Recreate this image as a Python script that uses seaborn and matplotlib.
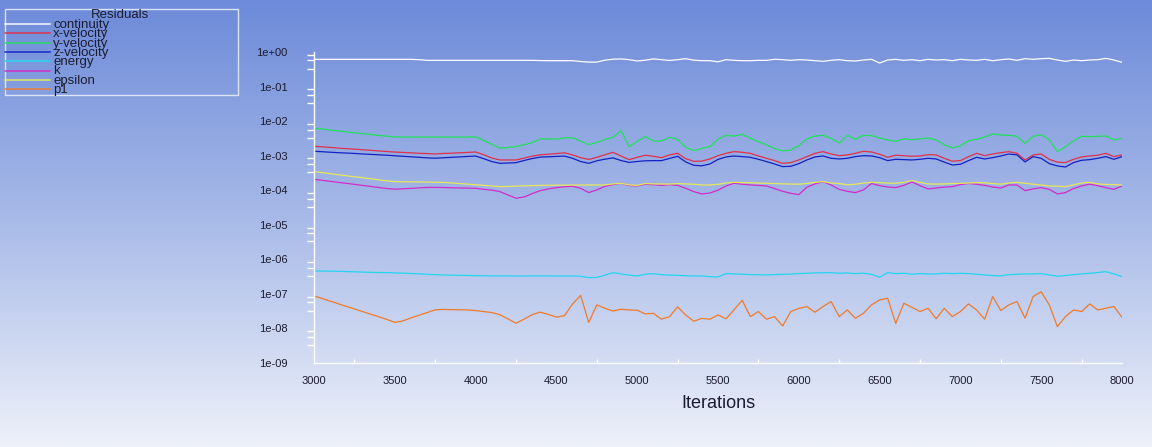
import numpy as np
import pandas as pd
import matplotlib
matplotlib.use("Agg")
import matplotlib.pyplot as plt
import seaborn as sns
from matplotlib.lines import Line2D
from matplotlib.patches import Rectangle
from matplotlib.colors import LinearSegmentedColormap
from matplotlib.ticker import LogLocator, MultipleLocator, NullFormatter

sns.set_theme(style="white")
plt.rcParams['font.family'] = ['Liberation Sans', 'DejaVu Sans']

# ---------------- data ----------------
iterations = list(range(3000, 8001, 50))

continuity = ([0.614] * 13 + [0.60] + [0.574] * 14 + [0.565] + [0.56] * 4 +
              [0.53, 0.51, 0.51, 0.58, 0.62, 0.63, 0.60, 0.55, 0.58, 0.63, 0.60, 0.57, 0.60, 0.64, 0.58, 0.56, 0.56, 0.52] +
              [0.60, 0.574, 0.56, 0.56, 0.574, 0.574, 0.614, 0.60, 0.574, 0.60,
               0.587, 0.56, 0.537, 0.574, 0.60, 0.56, 0.549, 0.587, 0.614, 0.48,
               0.587, 0.614, 0.574, 0.60, 0.56, 0.614, 0.587, 0.60, 0.56, 0.614,
               0.587, 0.574, 0.614, 0.56, 0.60, 0.627, 0.574, 0.641, 0.614, 0.641,
               0.655, 0.587, 0.537, 0.587, 0.56, 0.587, 0.60, 0.655, 0.587, 0.502])

x_velocity = [1.87e-3, 1.80e-3, 1.73e-3, 1.66e-3, 1.60e-3, 1.54e-3, 1.48e-3, 1.43e-3, 1.37e-3, 1.32e-3,
              1.27e-3, 1.24e-3, 1.21e-3, 1.17e-3, 1.15e-3, 1.12e-3, 1.16e-3, 1.18e-3, 1.21e-3, 1.24e-3,
              1.28e-3, 1.07e-3, 8.58e-4, 7.51e-4, 7.51e-4, 7.51e-4, 8.49e-4, 9.70e-4, 1.06e-3, 1.10e-3,
              1.15e-3, 1.21e-3, 1.05e-3, 8.77e-4, 7.76e-4, 8.97e-4, 1.06e-3, 1.25e-3, 9.80e-4, 7.68e-4,
              8.97e-4, 1.03e-3, 9.59e-4, 8.77e-4, 1.05e-3, 1.17e-3, 8.20e-4, 6.87e-4, 6.95e-4, 8.03e-4,
              1.0e-3,
              1.17e-3, 1.31e-3, 1.25e-3, 1.17e-3, 9.80e-4, 8.39e-4, 7.2e-4, 6.01e-4, 6.31e-4, 7.51e-4,
              9.38e-4, 1.17e-3, 1.31e-3, 1.12e-3, 1.0e-3, 1.05e-3, 1.17e-3, 1.34e-3, 1.28e-3, 1.1e-3,
              8.97e-4, 1.03e-3, 1.0e-3, 9.6e-4, 9.8e-4, 1.07e-3, 1.05e-3, 8.39e-4, 6.9e-4, 7.2e-4,
              9.38e-4, 1.17e-3, 1.0e-3, 1.12e-3, 1.22e-3, 1.31e-3, 1.17e-3, 7.51e-4, 1.05e-3, 1.12e-3,
              7.85e-4, 6.5e-4, 6.31e-4, 7.85e-4, 9.2e-4, 9.8e-4, 1.03e-3, 1.17e-3, 9.38e-4, 1.05e-3]

y_velocity = [6.19e-3, 5.85e-3, 5.52e-3, 5.19e-3, 4.9e-3, 4.61e-3, 4.36e-3, 4.10e-3, 3.87e-3, 3.65e-3,
              3.48e-3, 3.48e-3, 3.47e-3, 3.47e-3, 3.46e-3, 3.46e-3, 3.45e-3, 3.45e-3, 3.45e-3, 3.46e-3,
              3.48e-3, 2.77e-3, 2.14e-3, 1.65e-3, 1.73e-3, 1.82e-3, 2.07e-3, 2.38e-3, 3.04e-3, 3.04e-3,
              3.04e-3, 3.25e-3, 3.32e-3, 2.63e-3, 2.08e-3, 2.41e-3, 2.93e-3, 3.40e-3, 5.30e-3, 1.82e-3,
              2.61e-3, 3.55e-3, 2.66e-3, 2.66e-3, 3.40e-3, 2.97e-3, 1.75e-3, 1.40e-3, 1.63e-3, 1.82e-3,
              3.0e-3,
              3.89e-3, 3.71e-3, 4.15e-3, 3.18e-3, 2.55e-3, 2.04e-3, 1.60e-3, 1.37e-3, 1.46e-3, 1.95e-3,
              3.04e-3, 3.71e-3, 3.89e-3, 3.18e-3, 2.28e-3, 3.89e-3, 2.97e-3, 3.89e-3, 3.80e-3, 3.25e-3,
              2.85e-3, 2.61e-3, 3.11e-3, 2.91e-3, 3.04e-3, 3.25e-3, 2.85e-3, 2.08e-3, 1.67e-3, 1.91e-3,
              2.72e-3, 2.97e-3, 3.48e-3, 4.25e-3, 3.97e-3, 3.89e-3, 3.63e-3, 2.28e-3, 3.63e-3, 4.06e-3,
              2.85e-3, 1.31e-3, 1.82e-3, 2.72e-3, 3.63e-3, 3.55e-3, 3.63e-3, 3.71e-3, 2.85e-3, 3.18e-3]

z_velocity = [1.34e-3, 1.30e-3, 1.26e-3, 1.22e-3, 1.19e-3, 1.16e-3, 1.12e-3, 1.09e-3, 1.06e-3, 1.03e-3,
              9.95e-4, 9.59e-4, 9.27e-4, 8.97e-4, 8.63e-4, 8.45e-4, 8.69e-4, 8.95e-4, 9.2e-4, 9.48e-4,
              9.75e-4, 8.2e-4, 6.75e-4, 6.01e-4, 6.12e-4, 6.28e-4, 7.24e-4, 8.26e-4, 9.08e-4, 9.29e-4,
              9.51e-4, 9.73e-4, 8.39e-4, 6.76e-4, 6.01e-4, 7.1e-4, 7.92e-4, 8.63e-4, 7.24e-4, 6.37e-4,
              6.78e-4, 7.1e-4, 7.18e-4, 7.18e-4, 8.32e-4, 9.59e-4, 6.58e-4, 5.26e-4, 5.09e-4, 5.75e-4,
              7.8e-4,
              9.18e-4, 9.8e-4, 9.38e-4, 8.97e-4, 7.85e-4, 6.73e-4, 5.75e-4, 4.82e-4, 4.92e-4, 5.88e-4,
              7.51e-4, 9.18e-4, 9.8e-4, 8.39e-4, 8.03e-4, 8.39e-4, 9.38e-4, 1.0e-3, 9.8e-4, 8.77e-4,
              7.18e-4, 7.85e-4, 7.68e-4, 7.51e-4, 7.85e-4, 8.39e-4, 8.03e-4, 6.5e-4, 5.38e-4, 5.62e-4,
              7.18e-4, 8.97e-4, 8.03e-4, 8.77e-4, 9.8e-4, 1.12e-3, 1.05e-3, 6.6e-4, 9.38e-4, 8.39e-4,
              5.88e-4, 5.04e-4, 4.7e-4, 6.31e-4, 7.35e-4, 7.68e-4, 8.39e-4, 9.38e-4, 7.85e-4, 9.38e-4]

energy = [4.61e-7, 4.6e-7, 4.55e-7, 4.5e-7, 4.42e-7, 4.35e-7, 4.28e-7, 4.2e-7, 4.15e-7, 4.13e-7,
          4.05e-7, 3.97e-7, 3.9e-7, 3.8e-7, 3.7e-7, 3.6e-7, 3.52e-7, 3.49e-7, 3.46e-7, 3.42e-7,
          3.38e-7, 3.35e-7, 3.31e-7, 3.31e-7, 3.31e-7, 3.3e-7, 3.3e-7, 3.31e-7, 3.32e-7, 3.31e-7,
          3.3e-7, 3.3e-7, 3.3e-7, 3.25e-7, 2.95e-7, 3.0e-7, 3.5e-7, 4.1e-7, 3.8e-7, 3.5e-7,
          3.31e-7, 3.7e-7, 3.85e-7, 3.6e-7, 3.5e-7, 3.45e-7, 3.35e-7, 3.3e-7, 3.3e-7, 3.15e-7,
          3.1e-7,
          3.87e-7, 3.78e-7, 3.7e-7, 3.62e-7, 3.58e-7, 3.54e-7, 3.62e-7, 3.7e-7, 3.74e-7, 3.87e-7,
          3.95e-7, 4.04e-7, 4.08e-7, 4.13e-7, 3.95e-7, 4.04e-7, 3.87e-7, 3.95e-7, 3.7e-7, 3.03e-7,
          4.13e-7, 3.87e-7, 3.95e-7, 3.7e-7, 3.87e-7, 3.78e-7, 3.78e-7, 3.95e-7, 3.87e-7, 3.95e-7,
          3.87e-7, 3.7e-7, 3.54e-7, 3.39e-7, 3.31e-7, 3.62e-7, 3.7e-7, 3.78e-7, 3.78e-7, 3.87e-7,
          3.54e-7, 3.24e-7, 3.39e-7, 3.62e-7, 3.78e-7, 3.95e-7, 4.13e-7, 4.41e-7, 3.78e-7, 3.16e-7]

k_res = [2.07e-4, 1.94e-4, 1.81e-4, 1.69e-4, 1.58e-4, 1.48e-4, 1.38e-4, 1.29e-4, 1.2e-4, 1.12e-4,
         1.07e-4, 1.1e-4, 1.13e-4, 1.17e-4, 1.2e-4, 1.21e-4, 1.2e-4, 1.18e-4, 1.16e-4, 1.15e-4,
         1.14e-4, 1.06e-4, 1.01e-4, 9.12e-5, 7.3e-5, 5.85e-5, 6.38e-5, 7.98e-5, 9.73e-5, 1.09e-4,
         1.19e-4, 1.26e-4, 1.3e-4, 1.14e-4, 8.53e-5, 1.02e-4, 1.3e-4, 1.45e-4, 1.59e-4, 1.36e-4,
         1.33e-4, 1.49e-4, 1.45e-4, 1.38e-4, 1.45e-4, 1.38e-4, 1.14e-4, 9.12e-5, 7.8e-5, 8.3e-5,
         1.0e-4,
         1.33e-4, 1.59e-4, 1.49e-4, 1.42e-4, 1.38e-4, 1.33e-4, 1.12e-4, 9.3e-5, 8.15e-5, 7.46e-5,
         1.22e-4, 1.52e-4, 1.77e-4, 1.42e-4, 1.06e-4, 9.3e-5, 8.53e-5, 1.02e-4, 1.56e-4, 1.36e-4,
         1.24e-4, 1.19e-4, 1.38e-4, 1.73e-4, 1.36e-4, 1.09e-4, 1.16e-4, 1.23e-4, 1.27e-4, 1.45e-4,
         1.57e-4, 1.49e-4, 1.38e-4, 1.24e-4, 1.16e-4, 1.42e-4, 1.42e-4, 9.73e-5, 1.09e-4, 1.19e-4,
         1.06e-4, 7.8e-5, 8.53e-5, 1.12e-4, 1.33e-4, 1.49e-4, 1.36e-4, 1.19e-4, 1.06e-4, 1.33e-4]

epsilon = [3.45e-4, 3.23e-4, 3.02e-4, 2.81e-4, 2.63e-4, 2.46e-4, 2.3e-4, 2.15e-4, 2.0e-4, 1.87e-4,
           1.77e-4, 1.76e-4, 1.75e-4, 1.74e-4, 1.72e-4, 1.70e-4, 1.69e-4, 1.63e-4, 1.56e-4, 1.5e-4,
           1.44e-4, 1.38e-4, 1.33e-4, 1.27e-4, 1.29e-4, 1.31e-4, 1.34e-4, 1.36e-4, 1.38e-4, 1.39e-4,
           1.40e-4, 1.40e-4, 1.41e-4, 1.41e-4, 1.42e-4, 1.42e-4, 1.42e-4, 1.52e-4, 1.59e-4, 1.42e-4,
           1.38e-4, 1.56e-4, 1.52e-4, 1.52e-4, 1.5e-4, 1.56e-4, 1.52e-4, 1.49e-4, 1.42e-4, 1.42e-4,
           1.48e-4,
           1.62e-4, 1.69e-4, 1.66e-4, 1.64e-4, 1.61e-4, 1.59e-4, 1.56e-4, 1.53e-4, 1.51e-4, 1.49e-4,
           1.57e-4, 1.69e-4, 1.77e-4, 1.62e-4, 1.56e-4, 1.43e-4, 1.49e-4, 1.61e-4, 1.69e-4, 1.66e-4,
           1.61e-4, 1.59e-4, 1.69e-4, 1.9e-4, 1.69e-4, 1.52e-4, 1.5e-4, 1.52e-4, 1.56e-4, 1.59e-4,
           1.61e-4, 1.66e-4, 1.64e-4, 1.56e-4, 1.49e-4, 1.62e-4, 1.69e-4, 1.59e-4, 1.49e-4, 1.41e-4,
           1.33e-4, 1.31e-4, 1.27e-4, 1.42e-4, 1.62e-4, 1.69e-4, 1.52e-4, 1.47e-4, 1.45e-4, 1.42e-4]

p1 = [8.73e-8, 7.36e-8, 6.19e-8, 5.19e-8, 4.36e-8, 3.67e-8, 3.09e-8, 2.59e-8, 2.18e-8, 1.83e-8,
      1.5e-8, 1.65e-8, 2.02e-8, 2.41e-8, 2.88e-8, 3.47e-8, 3.55e-8, 3.51e-8, 3.47e-8, 3.43e-8,
      3.29e-8, 3.08e-8, 2.88e-8, 2.51e-8, 1.89e-8, 1.41e-8, 1.85e-8, 2.51e-8, 2.97e-8, 2.55e-8,
      2.13e-8, 2.34e-8, 5.12e-8, 9.0e-8, 1.5e-8, 4.8e-8, 3.84e-8, 3.2e-8, 3.59e-8, 3.43e-8,
      3.36e-8, 2.63e-8, 2.75e-8, 1.85e-8, 2.2e-8, 4.2e-8, 2.46e-8, 1.62e-8, 1.95e-8, 1.85e-8,
      2.46e-8,
      1.9e-8, 3.5e-8, 6.5e-8, 2.2e-8, 3.08e-8, 1.85e-8, 2.2e-8, 1.18e-8, 3.08e-8, 3.8e-8,
      4.3e-8, 2.95e-8, 4.3e-8, 6.0e-8, 2.2e-8, 3.43e-8, 1.97e-8, 2.75e-8, 4.8e-8, 6.68e-8,
      7.48e-8, 1.4e-8, 5.36e-8, 4.1e-8, 3.08e-8, 3.84e-8, 1.9e-8, 3.84e-8, 2.2e-8, 3.08e-8,
      5.12e-8, 3.43e-8, 1.85e-8, 8.36e-8, 3.3e-8, 4.8e-8, 6.0e-8, 1.97e-8, 8.36e-8, 1.15e-7,
      4.8e-8, 1.13e-8, 2.2e-8, 3.43e-8, 3.08e-8, 5.12e-8, 3.43e-8, 3.84e-8, 4.3e-8, 2.11e-8]

series_names = ["continuity", "x-velocity", "y-velocity", "z-velocity", "energy", "k", "epsilon", "p1"]
series_values = [continuity, x_velocity, y_velocity, z_velocity, energy, k_res, epsilon, p1]
series_colors = ["#ffffff", "#e2304c", "#22e05a", "#1222c4", "#22d6ee", "#d22cc8", "#e6e85a", "#f07a2a"]

ytick_values = [1e0, 1e-1, 1e-2, 1e-3, 1e-4, 1e-5, 1e-6, 1e-7, 1e-8, 1e-9]
ytick_labels = ["1e+00", "1e-01", "1e-02", "1e-03", "1e-04", "1e-05", "1e-06", "1e-07", "1e-08", "1e-09"]
xtick_values = [3000, 3500, 4000, 4500, 5000, 5500, 6000, 6500, 7000, 7500, 8000]
legend_title = "Residuals"
x_label = "Iterations"

# ---------------- figure ----------------
W, H = 1152, 447
fig = plt.figure(figsize=(W / 100, H / 100), dpi=100)

bg = fig.add_axes([0, 0, 1, 1])
bg.set_axis_off()
grad = np.linspace(0, 1, 256)[:, None]
cmap = LinearSegmentedColormap.from_list("bg", ["#6c8ad9", "#a9bbe8", "#eef1fa"])
bg.imshow(grad, aspect="auto", cmap=cmap, extent=[0, 1, 0, 1], origin="upper", zorder=0)

ax_l, ax_r, ax_t, ax_b = 314, 1122, 52, 363
ax = fig.add_axes([ax_l / W, 1 - ax_b / H, (ax_r - ax_l) / W, (ax_b - ax_t) / H])
ax.patch.set_alpha(0)

rows = []
for name, vals in zip(series_names, series_values):
    for it, v in zip(iterations, vals):
        rows.append((it, v, name))
df = pd.DataFrame(rows, columns=["iteration", "residual", "series"])

sns.lineplot(data=df, x="iteration", y="residual", hue="series", hue_order=series_names,
             palette=dict(zip(series_names, series_colors)), legend=False,
             linewidth=0.9, estimator=None, sort=False, ax=ax)

ax.set_yscale("log")
ax.set_ylim(1e-9, 1.0)
ax.set_xlim(3000, 8000)
ax.set_yticks(ytick_values)
ax.set_yticklabels(ytick_labels)
ax.yaxis.set_minor_locator(LogLocator(base=10, subs=(3.3, 5.7, 8.3)))
ax.yaxis.set_minor_formatter(NullFormatter())
ax.set_xticks(xtick_values)
ax.set_xticklabels([str(v) for v in xtick_values])
ax.xaxis.set_minor_locator(MultipleLocator(250))

txt = "#1c1c30"
ax.tick_params(axis="y", which="major", direction="out", length=10, width=1, color="white",
               labelsize=8, labelcolor=txt, pad=9)
ax.tick_params(axis="y", which="minor", direction="out", length=5, width=1, color="white", left=True)
ax.tick_params(axis="x", which="major", direction="in", length=4, width=1, color="white",
               labelsize=8, labelcolor=txt, pad=9)
ax.tick_params(axis="x", which="minor", direction="in", length=3, width=1, color="white", bottom=True)
for s in ["top", "right"]:
    ax.spines[s].set_visible(False)
for s in ["left", "bottom"]:
    ax.spines[s].set_color("white")
    ax.spines[s].set_linewidth(1)
ax.set_ylabel("")
ax.set_xlabel(x_label, fontsize=13, color=txt)
ax.xaxis.set_label_coords(0.5, -0.103)
ax.grid(False)

# ---------------- legend box ----------------
def fx(px):
    return px / W

def fy(py):
    return 1 - py / H

fig.add_artist(Rectangle((fx(5), fy(95)), fx(238) - fx(5), fy(9) - fy(95), fill=False,
                         edgecolor="#dde4f6", linewidth=1, transform=fig.transFigure))
fig.text(fx(120), fy(15), legend_title, ha="center", va="center", fontsize=9.5, color=txt)
for i, (name, col) in enumerate(zip(series_names, series_colors)):
    yy = 24 + 9.3 * i
    fig.add_artist(Line2D([fx(5), fx(50)], [fy(yy), fy(yy)], color=col, linewidth=1.4, alpha=0.75,
                          transform=fig.transFigure))
    fig.text(fx(53), fy(yy + 1), name, ha="left", va="center", fontsize=9.5, color=txt)

fig.savefig("out.png", dpi=100)
